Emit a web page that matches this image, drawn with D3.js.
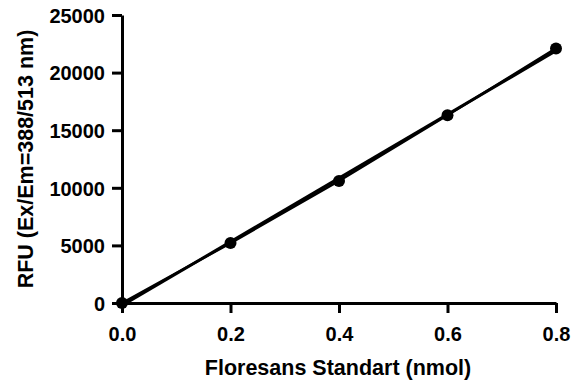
<!DOCTYPE html>
<html>
<head>
<meta charset="utf-8">
<script src="https://cdn.jsdelivr.net/npm/d3@7"></script>
<style>
body{margin:0;background:#fff;}
text{font-family:"Liberation Sans",Arial,sans-serif;font-weight:bold;fill:#000;}
</style>
</head>
<body>
<svg id="chart" width="572" height="383"></svg>
<script>
var amounts = [0, 0.2, 0.4, 0.6, 0.8];
var rfu = [0, 5200, 10600, 16300, 22100];
var xTicks = [0, 0.2, 0.4, 0.6, 0.8];
var yTicks = [0, 5000, 10000, 15000, 20000, 25000];

var svg = d3.select('#chart');
var xScale = d3.scaleLinear().domain([0, 0.8]).range([122, 556]);
var yScale = d3.scaleLinear().domain([0, 25000]).range([303, 15]);

// axes
var xAxis = svg.append('g').attr('transform', 'translate(0,303)')
	.call(d3.axisBottom(xScale).tickValues(xTicks).tickFormat(d3.format('.1f')).tickSize(10).tickSizeOuter(0));
var yAxis = svg.append('g').attr('transform', 'translate(122,0)')
	.call(d3.axisLeft(yScale).tickValues(yTicks).tickFormat(d3.format('d')).tickSize(10).tickSizeOuter(0));

[xAxis, yAxis].forEach(function(a){
	a.select('.domain').attr('stroke', '#000').attr('stroke-width', 3);
	a.selectAll('.tick line').attr('stroke', '#000').attr('stroke-width', 3);
	a.selectAll('.tick text').style('font-size', '20px').style('font-family', '"Liberation Sans",Arial,sans-serif').style('font-weight', 'bold');
});
xAxis.selectAll('.tick text').attr('dy', null).attr('y', 38);
yAxis.selectAll('.tick text').attr('x', -17).attr('dy', '0.36em');

// linear fit
var n = amounts.length, sx = d3.sum(amounts), sy = d3.sum(rfu);
var sxy = d3.sum(amounts.map(function(d,i){ return d*rfu[i]; }));
var sxx = d3.sum(amounts.map(function(d){ return d*d; }));
var slope = (n*sxy - sx*sy)/(n*sxx - sx*sx);
var icpt = (sy - slope*sx)/n;

svg.append('line')
	.attr('x1', xScale(0)).attr('y1', yScale(icpt))
	.attr('x2', xScale(0.8)).attr('y2', yScale(icpt + slope*0.8))
	.attr('stroke', '#000').attr('stroke-width', 3);

var pts = amounts.map(function(d,i){ return [d, rfu[i]]; });
svg.append('path').datum(pts)
	.attr('d', d3.line().x(function(d){ return xScale(d[0]); }).y(function(d){ return yScale(d[1]); }))
	.attr('fill', 'none').attr('stroke', '#000').attr('stroke-width', 2.5);

svg.selectAll('circle.pt').data(pts).enter().append('circle')
	.attr('class', 'pt')
	.attr('cx', function(d){ return xScale(d[0]); })
	.attr('cy', function(d){ return yScale(d[1]); })
	.attr('r', 6).attr('fill', '#000');

// titles
svg.append('text').attr('x', 338).attr('y', 375).attr('text-anchor', 'middle')
	.style('font-size', '21.5px').text('Floresans Standart (nmol)');
svg.append('text').attr('transform', 'translate(33,159) rotate(-90)').attr('text-anchor', 'middle')
	.style('font-size', '21.5px').text('RFU (Ex/Em=388/513 nm)');
</script>
</body>
</html>
